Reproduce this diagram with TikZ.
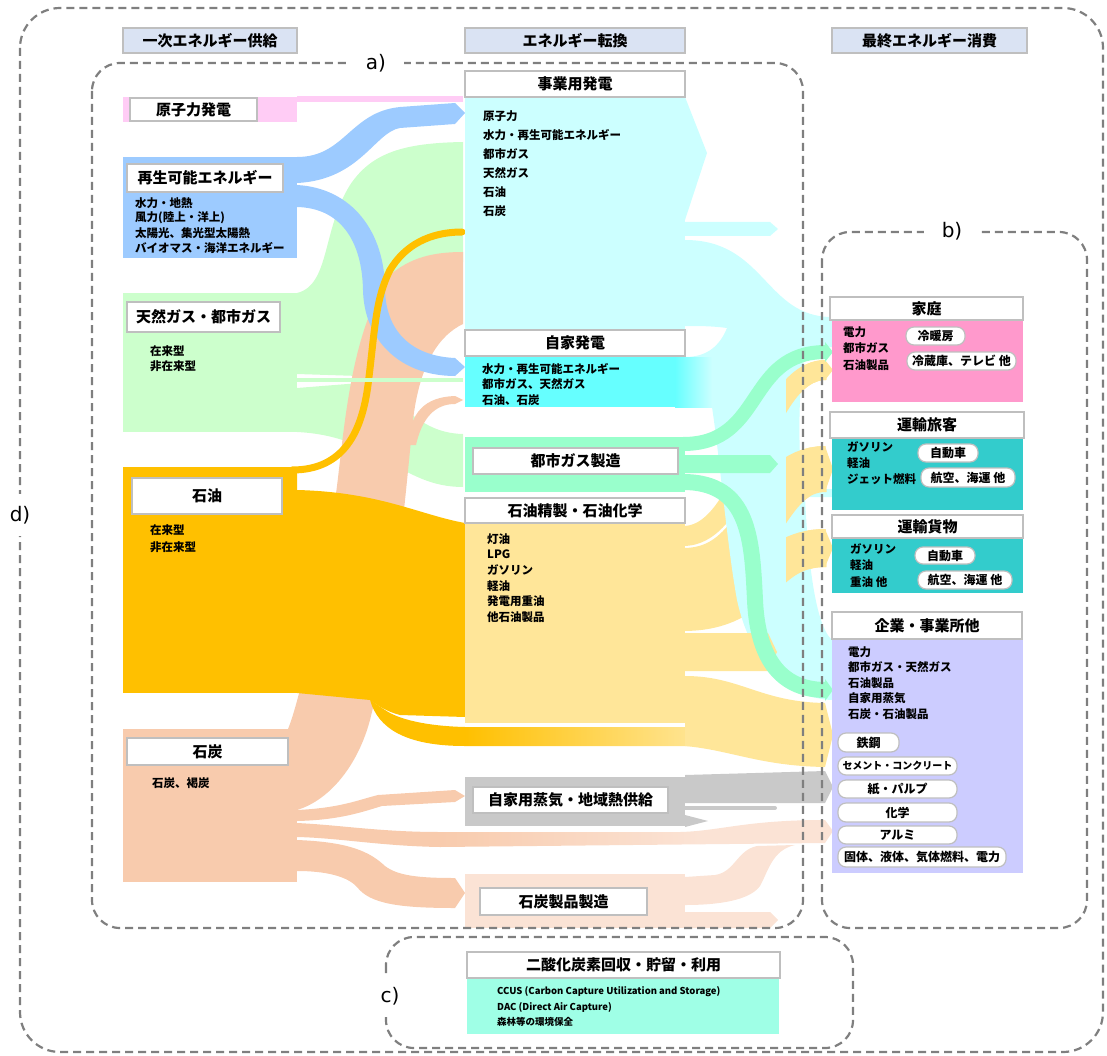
\documentclass[tikz,border=0pt]{standalone}
\usepackage{fontspec}
\setmainfont{Noto Sans CJK JP}
\newfontfamily\labfont{DejaVu Sans}
\definecolor{hdrc}{HTML}{DAE3F3}
\definecolor{pinkN}{HTML}{FFCCF5}
\definecolor{blueR}{HTML}{9DCBFF}
\definecolor{greenG}{HTML}{CCFFCC}
\definecolor{orangeO}{HTML}{FFC000}
\definecolor{salmonC}{HTML}{F8CBAD}
\definecolor{salmonL}{HTML}{FBE3D5}
\definecolor{cyanL}{HTML}{CCFFFF}
\definecolor{cyanA}{HTML}{66FFFF}
\definecolor{greenM}{HTML}{99FFCC}
\definecolor{yellowL}{HTML}{FFE699}
\definecolor{grayS}{HTML}{C9C9C9}
\definecolor{pinkH}{HTML}{FF99CC}
\definecolor{tealT}{HTML}{33CCCC}
\definecolor{lavE}{HTML}{CCCCFF}
\definecolor{aquaC}{HTML}{9FFFE6}
\definecolor{dashc}{HTML}{7F7F7F}
\definecolor{edgec}{HTML}{BFBFBF}
\tikzset{
 hdr/.style={draw=edgec, line width=1.2pt, fill=hdrc, inner sep=0pt, font=\bfseries\fontsize{15}{15}\selectfont},
 lab/.style={draw=edgec, line width=1.5pt, fill=white, inner sep=0pt, font=\bfseries\fontsize{15}{15}\selectfont},
 sm/.style={inner sep=0pt, anchor=west, font=\bfseries\fontsize{11.5}{13}\selectfont},
 pill/.style={draw=edgec, line width=1.2pt, fill=white, rounded corners=8pt, inner sep=0pt, font=\bfseries\fontsize{12}{12}\selectfont},
 dbox/.style={draw=dashc, line width=2.2pt, dash pattern=on 8pt off 5pt, rounded corners=28pt},
 tag/.style={fill=white, inner sep=3pt, font=\labfont\fontsize{20}{20}\selectfont}
}
\newcommand\bx[7]{\node[#1, minimum width={#4-#2}, minimum height={#5-#3}] (#6) at ({(#2+#4)/2},{(#3+#5)/2}) {#7};}
\newcommand\textlist[6][]{\foreach \t [count=\i from 0] in {#6} {\node[sm,#1] (#2\i) at (#3,{#4+#5*\i}) {\t};}}
\begin{document}
\begin{tikzpicture}[x=1pt,y=-1pt]
\useasboundingbox (0,0) rectangle (1107,1056);
% ---------- supply blocks ----------
\fill[pinkN] (123,97) rectangle (297,122);
\fill[blueR] (123,157) rectangle (297,258);
\fill[greenG] (123,293) rectangle (297,432);
\fill[orangeO] (123,467) rectangle (297,693);
\fill[salmonC] (123,729) rectangle (297,882);
% ---------- supply -> conversion flows ----------
\fill[greenG] (297,293) .. controls (330,285) and (322,230) .. (350,185) .. controls (372,152) and (405,143) .. (463,142) -- (463,262) -- (420,300) -- (390,377) -- (297,374) -- cycle;
\fill[greenG] (297,388) -- (360,383) .. controls (395,385) and (410,433) .. (463,434) -- (463,487) .. controls (400,487) and (380,436) .. (297,432) -- cycle;
\fill[salmonC] (288,729) .. controls (300,700) and (322,600) .. (337,486) .. controls (345,420) and (352,330) .. (390,275) .. controls (410,258) and (432,252) .. (463,252) -- (463,324) .. controls (440,335) and (420,362) .. (413,420) .. controls (405,500) and (395,620) .. (370,720) .. controls (358,765) and (330,800) .. (297,810) -- (297,729) -- cycle;
\fill[salmonC] (408,445) .. controls (410,412) and (425,397) .. (455,396) -- (463,400) -- (455,404) .. controls (435,404) and (422,418) .. (416,445) -- cycle;
\fill[blueR] (297,157) .. controls (345,157) and (350,112) .. (400,107) -- (455,103) -- (465,113) -- (455,124) -- (400,128) .. controls (375,132) and (360,180) .. (297,183) -- cycle;
\fill[blueR] (297,185) .. controls (352,188) and (385,232) .. (385,290) .. controls (386,330) and (410,356) .. (455,358) -- (465,367) -- (455,376) .. controls (400,376) and (364,340) .. (363,290) .. controls (362,240) and (340,208) .. (297,207) -- cycle;
\fill[orangeO] (297,467) -- (297,490) .. controls (380,492) and (420,515) .. (465,523) -- (465,717) -- (400,715) .. controls (388,712) and (378,706) .. (370,700) -- (297,693) -- cycle;
\begin{scope}
\clip (370,700) .. controls (378,728) and (405,746) .. (465,746) -- (702,746) -- (702,727) -- (465,727) .. controls (425,726) and (398,719) .. (385,710) -- cycle;
\fill[orangeO] (360,690) rectangle (465,750);
\shade[left color=orangeO, right color=yellowL] (465,690) rectangle (702,750);
\end{scope}
\draw[orangeO, line width=7pt, line cap=round] (292,470) .. controls (345,470) and (362,430) .. (368,385) .. controls (375,330) and (375,300) .. (390,270) .. controls (405,245) and (430,232) .. (462,232);
\draw[greenG, line width=3.5pt] (297,380) -- (463,380);
\fill[pinkN] (297,96) rectangle (463,102);
\fill[salmonC] (297,810) .. controls (340,808) and (358,800) .. (378,795) -- (455,790) -- (465,796) -- (455,802) -- (382,806) .. controls (362,812) and (340,820) .. (297,821) -- cycle;
\begin{scope}
\clip (297,823) .. controls (340,825) and (380,832) .. (440,832) -- (680,832) .. controls (720,831) and (745,820) .. (825,820) -- (833,831) -- (825,843) -- (440,847) .. controls (380,846) and (340,838) .. (297,837) -- cycle;
\fill[salmonC] (290,810) rectangle (440,860);
\shade[left color=salmonC, right color=salmonL] (440,810) rectangle (700,860);
\fill[salmonL] (700,810) rectangle (840,860);
\end{scope}
\fill[salmonC] (297,840) .. controls (350,842) and (370,852) .. (385,866) .. controls (398,876) and (420,878) .. (455,878) -- (465,893) -- (455,908) .. controls (400,908) and (370,904) .. (357,887) .. controls (347,876) and (325,871) .. (297,871) -- cycle;
% ---------- conversion bodies ----------
\fill[cyanL] (465,97) rectangle (685,330);
\fill[cyanL] (685,97) -- (707,153) -- (685,220) -- cycle;
\fill[cyanA] (465,356) rectangle (685,407);
\fill[greenM] (465,437) rectangle (685,492);
\fill[yellowL] (465,523) rectangle (685,723);
\fill[grayS] (465,777) rectangle (685,826);
\fill[salmonL] (465,874) rectangle (685,928);
% ---------- conversion -> consumption flows ----------
\draw[yellowL, line width=20pt] (683,536) .. controls (750,536) and (760,370) .. (826,370);
\draw[yellowL, line width=46pt] (683,571) .. controls (765,571) and (760,469) .. (826,469);
\draw[yellowL, line width=38pt] (683,612) .. controls (765,612) and (760,548) .. (826,548);
\fill[cyanL] (685,240) .. controls (765,240) and (765,317) .. (832,317) -- (832,347) -- (806,347) .. controls (798,390) and (798,440) .. (802,489) -- (832,489) -- (832,497) -- (805,497) .. controls (808,560) and (815,625) .. (832,640) -- (832,700) .. controls (785,698) and (750,660) .. (737,600) .. controls (727,545) and (720,460) .. (712,407) -- (685,407) -- (685,357) .. controls (708,357) and (720,345) .. (727,328) .. controls (712,326) and (700,326) .. (685,326) -- cycle;
\shade[left color=cyanA, right color=cyanL] (675,357) rectangle (712,407);
\fill[cyanL] (685,222) -- (770,222) -- (778,229) -- (770,236) -- (685,236) -- cycle;
\begin{scope}
\clip (786,300) rectangle (840,600);
\draw[yellowL, line width=20pt] (683,536) .. controls (750,536) and (760,370) .. (826,370);
\draw[yellowL, line width=46pt] (683,571) .. controls (765,571) and (760,469) .. (826,469);
\draw[yellowL, line width=38pt] (683,612) .. controls (765,612) and (760,548) .. (826,548);
\end{scope}
\fill[yellowL] (825,360) -- (833,370) -- (825,380) -- cycle;
\fill[yellowL] (825,446) -- (833,469) -- (825,492) -- cycle;
\fill[yellowL] (825,529) -- (833,548) -- (825,567) -- cycle;
\fill[yellowL] (685,633) -- (768,633) -- (777,652) -- (768,671) -- (685,671) -- cycle;
\fill[yellowL] (685,676) .. controls (740,676) and (760,702) .. (825,703) -- (833,735) -- (825,767) .. controls (760,766) and (730,750) .. (685,746) -- cycle;
\fill[grayS] (685,775) -- (825,771) -- (833,787) -- (825,803) -- (685,803) -- cycle;
\draw[grayS, line width=4pt, line cap=round] (685,808) -- (775,808);
\fill[grayS] (685,815) -- (708,821) -- (685,827) -- cycle;
\draw[greenM, line width=14pt] (683,444) .. controls (765,444) and (745,352) .. (826,352);
\fill[greenM] (825,342) -- (833,352) -- (825,362) -- cycle;
\fill[greenM] (685,455) -- (770,455) -- (778,464) -- (770,473) -- (685,473) -- cycle;
\draw[greenM, line width=16pt] (683,482) .. controls (750,482) and (752,540) .. (755,600) .. controls (758,670) and (790,690) .. (826,690);
\fill[greenM] (825,679) -- (833,690) -- (825,701) -- cycle;
\fill[salmonL] (685,877) -- (715,875) .. controls (735,872) and (737,850) .. (757,846) -- (795,845) .. controls (772,850) and (768,872) .. (760,886) .. controls (750,900) and (720,905) .. (685,905) -- cycle;
\fill[salmonL] (685,912) -- (770,912) -- (778,920) -- (770,928) -- (685,928) -- cycle;
% ---------- consumption bodies ----------
\fill[pinkH] (832,320) rectangle (1023,402);
\fill[tealT] (832,438) rectangle (1023,510);
\fill[tealT] (832,538) rectangle (1023,593);
\fill[lavE] (832,639) rectangle (1023,873);
\fill[aquaC] (467,978) rectangle (779,1034);
% ---------- headers and labels ----------
\bx{hdr}{123}{28}{297}{53}{h1}{一次エネルギー供給}
\bx{hdr}{465}{28}{685}{53}{h2}{エネルギー転換}
\bx{hdr}{832}{28}{1027}{53}{h3}{最終エネルギー消費}
\bx{lab}{130}{98}{257}{121}{nuc}{原子力発電}
\bx{lab}{127}{164}{283}{192}{ren}{再生可能エネルギー}
\bx{lab}{127}{302}{280}{332}{gas}{天然ガス・都市ガス}
\bx{lab}{132}{478}{282}{514}{oil}{石油}
\bx{lab}{127}{738}{288}{765}{coal}{石炭}
\bx{lab}{465}{71}{685}{97}{jigyo}{事業用発電}
\bx{lab}{465}{330}{685}{356}{jika}{自家発電}
\bx{lab}{473}{448}{678}{474}{tgas}{都市ガス製造}
\bx{lab}{465}{498}{685}{523}{seisei}{石油精製・石油化学}
\bx{lab}{473}{787}{668}{813}{steam}{自家用蒸気・地域熱供給}
\bx{lab}{480}{888}{647}{915}{cprod}{石炭製品製造}
\bx{lab}{830}{297}{1023}{320}{home}{家庭}
\bx{lab}{830}{412}{1024}{438}{pass}{運輸旅客}
\bx{lab}{832}{515}{1023}{538}{frt}{運輸貨物}
\bx{lab}{832}{612}{1022}{639}{ent}{企業・事業所他}
\bx{lab}{467}{952}{780}{978}{ccus}{二酸化炭素回収・貯留・利用}
% ---------- pills ----------
\bx{pill}{906}{327}{965}{345}{p1}{冷暖房}
\bx{pill}{907}{352}{1016}{370}{p2}{冷蔵庫、テレビ 他}
\bx{pill}{918}{444}{978}{462}{p3}{自動車}
\bx{pill}{921}{468}{1015}{487}{p4}{航空、海運 他}
\bx{pill}{915}{547}{975}{564}{p5}{自動車}
\bx{pill}{918}{571}{1012}{589}{p6}{航空、海運 他}
\bx{pill}{838}{733}{899}{752}{p7}{鉄鋼}
\bx{pill,font={\bfseries\fontsize{10}{10}\selectfont}}{838}{757}{957}{775}{p8}{セメント・コンクリート}
\bx{pill}{838}{780}{957}{798}{p9}{紙・パルプ}
\bx{pill}{838}{803}{957}{822}{p10}{化学}
\bx{pill}{838}{826}{957}{844}{p11}{アルミ}
\bx{pill}{838}{847}{1006}{867}{p12}{固体、液体、気体燃料、電力}
% ---------- text lists ----------
\textlist{re}{135}{203}{15}{水力・地熱,風力(陸上・洋上),太陽光、集光型太陽熱,バイオマス・海洋エネルギー}
\textlist{ng}{150}{351}{15.5}{在来型,非在来型}
\textlist{oi}{150}{530}{17}{在来型,非在来型}
\textlist{co}{152}{783}{15}{石炭、褐炭}
\textlist{ju}{483}{116}{19}{原子力,水力・再生可能エネルギー,都市ガス,天然ガス,石油,石炭}
\textlist{ji}{482}{369}{15.5}{水力・再生可能エネルギー,都市ガス、天然ガス,石油、石炭}
\textlist{se}{487}{539}{15.6}{灯油,LPG,ガソリン,軽油,発電用重油,他石油製品}
\textlist{ka}{843}{332}{16.5}{電力,都市ガス,石油製品}
\textlist{tp}{847}{447}{16}{ガソリン,軽油,ジェット燃料}
\textlist{tf}{850}{549}{16.5}{ガソリン,軽油,重油 他}
\textlist{en}{848}{652}{15.5}{電力,都市ガス・天然ガス,石油製品,自家用蒸気,石炭・石油製品}
\textlist[font={\bfseries\fontsize{9.5}{11}\selectfont}]{cc}{497}{992}{15}{CCUS (Carbon Capture Utilization and Storage),DAC (Direct Air Capture),森林等の環境保全}
% ---------- dashed frames ----------
\draw[dbox, rounded corners=40pt] (20,8) rectangle (1103,1052);
\draw[dbox] (92,63) rectangle (803,928);
\draw[dbox] (822,232) rectangle (1087,928);
\draw[dbox] (386,937) rectangle (853,1048);
\node[tag, inner xsep=18pt] (ta) at (376,63) {a)};
\node[tag, inner xsep=18pt] (tb) at (952,231) {b)};
\node[tag, inner ysep=12pt] (tc) at (390,996) {c)};
\node[tag, inner ysep=12pt] (td) at (20,515) {d)};
\end{tikzpicture}
\end{document}
